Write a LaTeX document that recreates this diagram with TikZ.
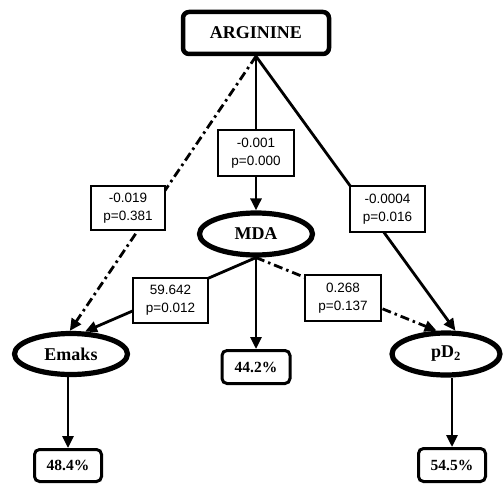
\documentclass[tikz,border=0pt]{standalone}
\usepackage{fontspec}
\setmainfont{Liberation Serif}
\setsansfont{Liberation Sans}
\usetikzlibrary{arrows.meta,shapes.geometric}
\begin{document}
\begin{tikzpicture}[x=1pt,y=-1pt,
  mainbox/.style={draw, line width=4.5pt, rounded corners=6pt, fill=white, inner sep=0pt,
    font=\bfseries\fontsize{18}{20}\selectfont},
  ovalnode/.style={draw, ellipse, line width=5.2pt, fill=white, inner sep=0pt,
    font=\bfseries\fontsize{18}{20}\selectfont},
  coefbox/.style={draw, line width=2.2pt, fill=white, inner sep=0pt, align=center,
    font=\sffamily\fontsize{13.5}{18}\selectfont},
  pctbox/.style={draw, line width=3pt, rounded corners=5pt, fill=white, inner sep=0pt,
    font=\bfseries\fontsize{15.5}{18}\selectfont},
  conn/.style={line width=2.8pt, -{Triangle[length=12pt,width=11pt]}},
  dashdot/.style={conn, dash pattern=on 9pt off 4pt on 2.5pt off 4pt}
]
\useasboundingbox (0,0) rectangle (503,484);

% main nodes
\node[mainbox, minimum width=146pt, minimum height=42pt] (arg) at (256,33) {ARGININE};
\node[ovalnode, minimum width=113pt, minimum height=42pt] (mda) at (256,234) {MDA};
\node[ovalnode, minimum width=113pt, minimum height=41pt] (emaks) at (71,354) {Emaks};
\node[ovalnode, minimum width=108pt, minimum height=42pt] (pd) at (446,354) {pD\textsubscript{2}};
\node[pctbox, minimum width=68pt, minimum height=33pt] (p1) at (256,367) {44.2\%};
\node[pctbox, minimum width=67pt, minimum height=32pt] (p2) at (68,465.5) {48.4\%};
\node[pctbox, minimum width=67pt, minimum height=33pt] (p3) at (452,465) {54.5\%};

% connectors
\draw[conn] (arg.south) -- (mda.north);
\draw[dashdot] (arg.south) -- (emaks.93);
\draw[conn] (arg.south) -- (pd.68);
\draw[conn] (mda.south) -- (emaks.58);
\draw[dashdot] (mda.south) -- (pd.112);
\draw[conn] (mda.south) -- (p1.north);
\draw[conn] (emaks.south -| p2.north) -- (p2.north);
\draw[conn] (pd.south -| p3.north) -- (p3.north);

% coefficient boxes on the connectors
\node[coefbox, minimum width=76pt, minimum height=46pt] (c1) at (256,153) {-0.001\\p=0.000};
\node[coefbox, minimum width=74pt, minimum height=44pt] (c2) at (128,208) {-0.019\\p=0.381};
\node[coefbox, minimum width=75pt, minimum height=45pt] (c3) at (170.5,300.5) {59.642\\p=0.012};
\node[coefbox, minimum width=75pt, minimum height=46pt] (c4) at (387.5,209) {-0.0004\\p=0.016};
\node[coefbox, minimum width=76pt, minimum height=46pt] (c5) at (343,298) {0.268\\p=0.137};
\end{tikzpicture}
\end{document}
